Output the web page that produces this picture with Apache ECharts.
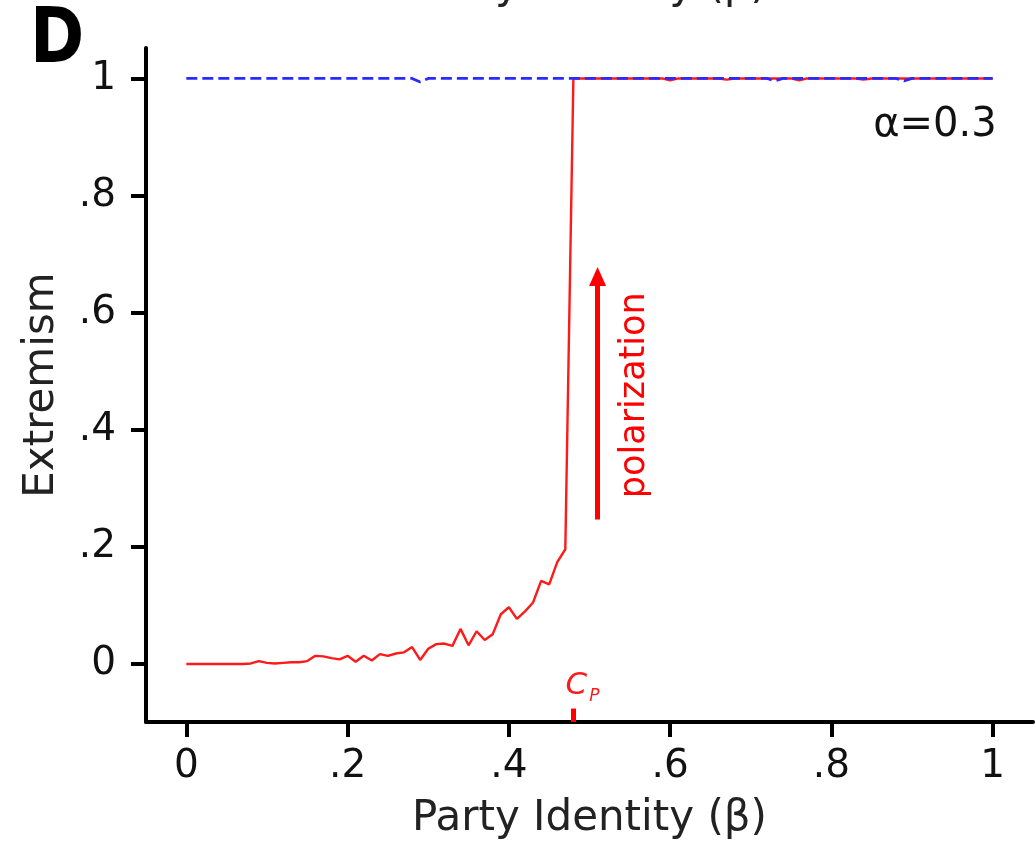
<!DOCTYPE html>
<html>
<head>
<meta charset="utf-8">
<script src="https://cdn.jsdelivr.net/npm/echarts@6/dist/echarts.min.js"></script>
<style>
html, body { margin: 0; padding: 0; background: #fff; }
#chart-box { width: 1035px; height: 848px; }
</style>
</head>
<body>
<div id="chart-box"></div>
<script>
// party identity grid (beta)
var beta = [0, .01, .02, .03, .04, .05, .06, .07, .08, .09,
  .10, .11, .12, .13, .14, .15, .16, .17, .18, .19,
  .20, .21, .22, .23, .24, .25, .26, .27, .28, .29,
  .30, .31, .32, .33, .34, .35, .36, .37, .38, .39,
  .40, .41, .42, .43, .44, .45, .46, .47, .48, .49,
  .50, .51, .52, .53, .54, .55, .56, .57, .58, .59,
  .60, .61, .62, .63, .64, .65, .66, .67, .68, .69,
  .70, .71, .72, .73, .74, .75, .76, .77, .78, .79,
  .80, .81, .82, .83, .84, .85, .86, .87, .88, .89,
  .90, .91, .92, .93, .94, .95, .96, .97, .98, .99, 1];
// extremism, red (solid)
var redVals = [0, 0, 0, 0, 0, 0, 0, 0, 0.001, 0.005,
  0.002, 0.001, 0.002, 0.003, 0.003, 0.005, 0.014, 0.013, 0.010, 0.008,
  0.014, 0.004, 0.014, 0.006, 0.017, 0.014, 0.018, 0.020, 0.029, 0.007,
  0.026, 0.034, 0.035, 0.031, 0.060, 0.032, 0.056, 0.041, 0.051, 0.085,
  0.097, 0.077, 0.090, 0.105, 0.142, 0.136, 0.174, 0.196, 1, 1,
  1, 1, 1, 1, 1, 1, 1, 1, 1, 1,
  0.997, 1, 1, 1, 1, 1, 1, 0.998, 1, 1,
  1, 1, 1, 1, 1, 1, 0.997, 1, 1, 1,
  1, 1, 1, 1, 0.998, 1, 1, 1, 1, 1,
  1, 1, 1, 1, 1, 1, 1, 1, 1, 1, 1];
// extremism, blue (dashed)
var blueVals = [1, 1, 1, 1, 1, 1, 1, 1, 1, 1,
  1, 1, 1, 1, 1, 1, 1, 1, 1, 1,
  1, 1, 1, 1, 1, 1, 1, 1, 1, 0.994,
  1, 1, 1, 1, 1, 1, 1, 1, 1, 1,
  1, 1, 1, 1, 1, 1, 1, 1, 1, 1,
  1, 1, 1, 1, 1, 1, 1, 1, 1, 1,
  1, 1, 1, 1, 1, 1, 1, 1, 1, 1,
  1, 1, 1, 0.996, 1, 1, 1, 1, 1, 1,
  1, 1, 1, 1, 1, 1, 1, 1, 1, 0.996,
  1, 1, 1, 1, 1, 1, 1, 1, 1, 1, 1];
var tickVals = [0, 0.2, 0.4, 0.6, 0.8, 1];
var tickLabels = ['0', '.2', '.4', '.6', '.8', '1'];
var cp = 0.48;

var FONT = 'DejaVu Sans';
function lab(v) {
    for (var i = 0; i < tickVals.length; i++) {
        if (Math.abs(tickVals[i] - v) < 1e-6) return tickLabels[i];
    }
    return '';
}
function pairs(ys) {
    return beta.map(function (b, i) { return [b, ys[i]]; });
}

var myChart = echarts.init(document.getElementById('chart-box'));
var option = {
    animation: false,
    backgroundColor: '#fff',
    grid: { left: 146, right: 2, top: 48, bottom: 126 },
    xAxis: {
        type: 'value',
        min: -0.05,
        max: 1.05,
        name: 'Party Identity (β)',
        nameLocation: 'middle',
        nameGap: 76,
        nameTextStyle: { fontFamily: FONT, fontSize: 42, color: '#222' },
        axisLine: { onZero: false, lineStyle: { color: '#000', width: 4 } },
        axisTick: { show: true, customValues: tickVals, length: 15, lineStyle: { color: '#000', width: 4 } },
        axisLabel: { customValues: tickVals, formatter: lab, fontFamily: FONT, fontSize: 39, color: '#111', margin: 25 },
        splitLine: { show: false }
    },
    yAxis: {
        type: 'value',
        min: -0.099,
        max: 1.052,
        name: 'Extremism',
        nameLocation: 'middle',
        nameGap: 83,
        nameTextStyle: { fontFamily: FONT, fontSize: 42, color: '#222' },
        axisLine: { onZero: false, lineStyle: { color: '#000', width: 4 } },
        axisTick: { show: true, customValues: tickVals, length: 15, lineStyle: { color: '#000', width: 4 } },
        axisLabel: { customValues: tickVals, formatter: lab, fontFamily: FONT, fontSize: 39, color: '#111', margin: 30 },
        splitLine: { show: false }
    },
    series: [{
        name: 'red',
        type: 'line',
        data: pairs(redVals),
        showSymbol: false,
        lineStyle: { color: '#ff1a1a', width: 2.4 },
        z: 2,
        markLine: {
            silent: true,
            animation: false,
            data: [
                [{ coord: [0.51, 0.247], symbol: 'none' },
                 { coord: [0.51, 0.662], symbol: 'triangle', symbolSize: [17, 19] }],
                [{ coord: [cp, -0.099], symbol: 'none' },
                 { coord: [cp, -0.076], symbol: 'none' }]
            ],
            lineStyle: { color: '#ff0000', width: 5, type: 'solid' },
            label: { show: false }
        }
    }, {
        name: 'blue',
        type: 'line',
        data: pairs(blueVals),
        showSymbol: false,
        lineStyle: { color: '#2a2aff', width: 2.8, type: [11, 5] },
        z: 3
    }]
};
myChart.setOption(option);

function place() {
    var pol = myChart.convertToPixel({ gridIndex: 0 }, [0.556, 0.459]);
    var cpLab = myChart.convertToPixel({ gridIndex: 0 }, [cp, -0.038]);
    var alpha = myChart.convertToPixel({ gridIndex: 0 }, [1.005, 0.92]);
    var top = myChart.convertToPixel({ gridIndex: 0 }, [0.5, 0]);
    myChart.setOption({
        graphic: [{
            type: 'text', x: 30, y: 4, scaleX: 0.86,
            style: { text: 'D', font: 'bold 76px "DejaVu Sans"', fill: '#000' }
        }, {
            type: 'text', x: top[0], y: -13,
            style: { text: 'Party Identity (β)', font: '42px "DejaVu Sans"', fill: '#222', align: 'center', verticalAlign: 'middle' }
        }, {
            type: 'text', x: pol[0], y: pol[1], rotation: Math.PI / 2,
            style: { text: 'polarization', font: '35px "DejaVu Sans"', fill: '#ff0000', align: 'center', verticalAlign: 'middle' }
        }, {
            type: 'text', x: alpha[0], y: alpha[1],
            style: { text: 'α=0.3', font: '40px "DejaVu Sans"', fill: '#111', align: 'right', verticalAlign: 'middle' }
        }, {
            type: 'text', x: cpLab[0] + 3, y: cpLab[1],
            style: { text: 'C', font: 'italic 31px "DejaVu Sans"', fill: '#ff1a1a', align: 'center', verticalAlign: 'middle' }
        }, {
            type: 'text', x: cpLab[0] + 21, y: cpLab[1] + 10,
            style: { text: 'P', font: 'italic 17px "DejaVu Sans"', fill: '#ff1a1a', align: 'center', verticalAlign: 'middle' }
        }]
    });
}
place();
</script>
</body>
</html>
